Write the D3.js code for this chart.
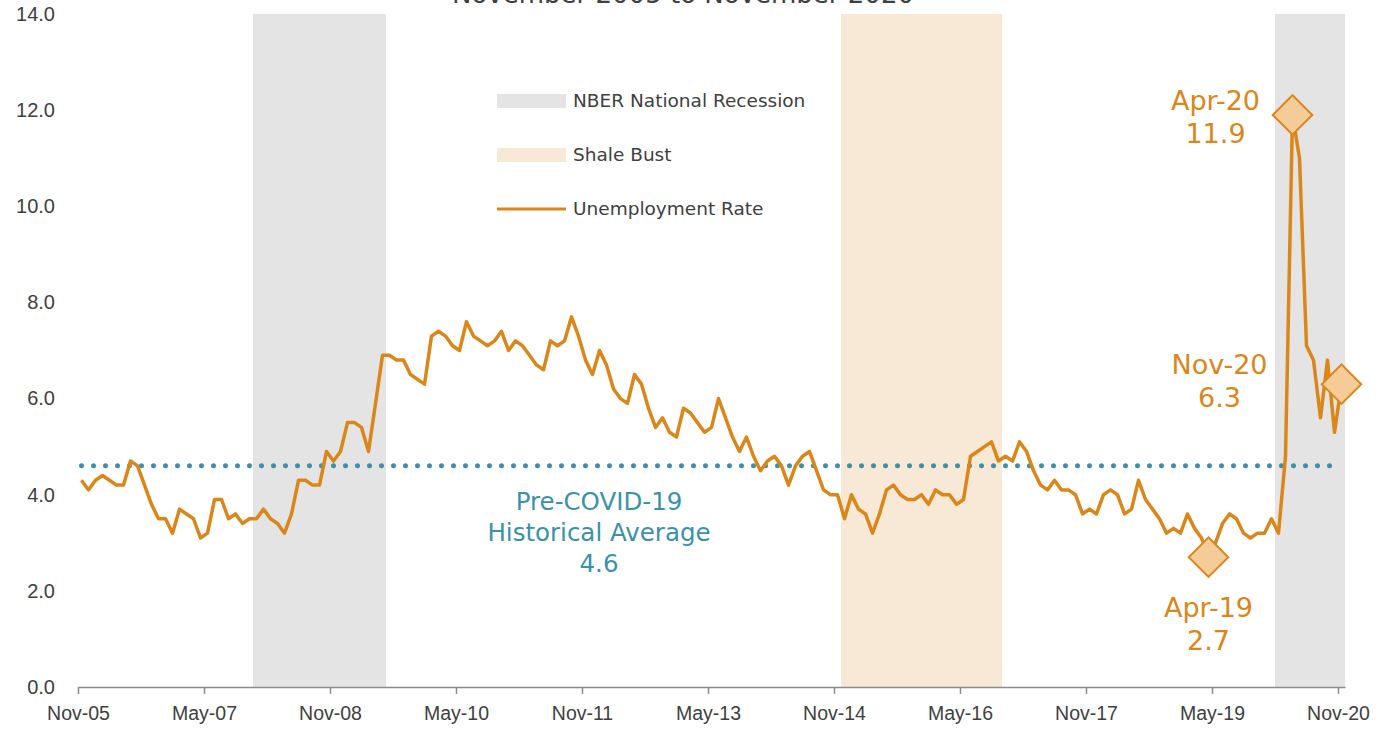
<!DOCTYPE html>
<html>
<head>
<meta charset="utf-8">
<script src="https://cdn.jsdelivr.net/npm/d3@7"></script>
<style>
  body { margin: 0; background: #fff; }
  svg { display: block; font-family: "DejaVu Sans", sans-serif; }
  .axis text { fill: #404040; }
  .axis--x path, .axis--x line { stroke: #8c8c8c; stroke-width: 1.5; }
</style>
</head>
<body>
<div id="chart"></div>
<script>
// monthly unemployment rate, Nov-05 .. Nov-20
var firstMonth = new Date(2005, 10, 1);
var rates = [
    4.3, 4.1, 4.3, 4.4, 4.3, 4.2, 4.2, 4.7, 4.6, 4.2,
    3.8, 3.5, 3.5, 3.2, 3.7, 3.6, 3.5, 3.1, 3.2, 3.9,
    3.9, 3.5, 3.6, 3.4, 3.5, 3.5, 3.7, 3.5, 3.4, 3.2,
    3.6, 4.3, 4.3, 4.2, 4.2, 4.9, 4.7, 4.9, 5.5, 5.5,
    5.4, 4.9, 5.9, 6.9, 6.9, 6.8, 6.8, 6.5, 6.4, 6.3,
    7.3, 7.4, 7.3, 7.1, 7.0, 7.6, 7.3, 7.2, 7.1, 7.2,
    7.4, 7.0, 7.2, 7.1, 6.9, 6.7, 6.6, 7.2, 7.1, 7.2,
    7.7, 7.3, 6.8, 6.5, 7.0, 6.7, 6.2, 6.0, 5.9, 6.5,
    6.3, 5.8, 5.4, 5.6, 5.3, 5.2, 5.8, 5.7, 5.5, 5.3,
    5.4, 6.0, 5.6, 5.2, 4.9, 5.2, 4.8, 4.5, 4.7, 4.8,
    4.6, 4.2, 4.6, 4.8, 4.9, 4.5, 4.1, 4.0, 4.0, 3.5,
    4.0, 3.7, 3.6, 3.2, 3.6, 4.1, 4.2, 4.0, 3.9, 3.9,
    4.0, 3.8, 4.1, 4.0, 4.0, 3.8, 3.9, 4.8, 4.9, 5.0,
    5.1, 4.7, 4.8, 4.7, 5.1, 4.9, 4.5, 4.2, 4.1, 4.3,
    4.1, 4.1, 4.0, 3.6, 3.7, 3.6, 4.0, 4.1, 4.0, 3.6,
    3.7, 4.3, 3.9, 3.7, 3.5, 3.2, 3.3, 3.2, 3.6, 3.3,
    3.1, 2.7, 3.0, 3.4, 3.6, 3.5, 3.2, 3.1, 3.2, 3.2,
    3.5, 3.2, 4.8, 11.9, 11.0, 7.1, 6.8, 5.6, 6.8, 5.3, 6.3
];
var historicalAvg = 4.6;

var xTickLabels = ['Nov-05', 'May-07', 'Nov-08', 'May-10', 'Nov-11', 'May-13',
                   'Nov-14', 'May-16', 'Nov-17', 'May-19', 'Nov-20'];
var yTicks = [0, 2, 4, 6, 8, 10, 12, 14];

// shaded periods [first month, last month]
var nberPeriods = [['Dec-07', 'Jun-09'], ['Feb-20', 'Nov-20']];
var shalePeriods = [['Dec-14', 'Oct-16']];

// highlighted points
var callouts = ['Apr-19', 'Apr-20', 'Nov-20'];

var title = 'November 2005 to November 2020';
var legendLabels = ['NBER National Recession', 'Shale Bust', 'Unemployment Rate'];
var avgLabel = ['Pre-COVID-19', 'Historical Average', '4.6'];

var width = 1379, height = 731;
var orange = '#DB8619', teal = '#3A91A9', grey = '#E4E4E4', tan = '#F8E9D6';

var fmtMonth = d3.timeFormat('%b-%y');
var data = rates.map(function(v, i) {
    var dt = d3.timeMonth.offset(firstMonth, i);
    return {i: i, label: fmtMonth(dt), value: v};
});
var indexOf = {};
data.forEach(function(d) { indexOf[d.label] = d.i; });

var xScale = d3.scaleLinear().domain([0, data.length]).range([78, 1345]);
var yScale = d3.scaleLinear().domain([0, 14]).range([687, 14]);

var svg = d3.select('#chart').append('svg')
    .attr('width', width)
    .attr('height', height);

// title (cut at the top, as in the source)
svg.append('text')
    .attr('x', 683)
    .attr('y', 3)
    .attr('text-anchor', 'middle')
    .style('font-size', '26px')
    .style('fill', '#404040')
    .text(title);

function drawBands(periods, color) {
    svg.append('g').selectAll('rect')
        .data(periods)
        .enter().append('rect')
        .attr('x', function(d) { return xScale(indexOf[d[0]]); })
        .attr('width', function(d) { return xScale(indexOf[d[1]] + 1) - xScale(indexOf[d[0]]); })
        .attr('y', yScale(14))
        .attr('height', yScale(0) - yScale(14))
        .style('fill', color);
}
drawBands(nberPeriods, grey);
drawBands(shalePeriods, tan);

// axes
svg.append('g')
    .attr('class', 'axis axis--x')
    .attr('transform', 'translate(0,' + yScale(0) + ')')
    .call(d3.axisBottom(xScale)
        .tickValues(xTickLabels.map(function(d) { return indexOf[d]; }))
        .tickFormat(function(d) { return data[d].label; })
        .tickSize(7)
        .tickSizeOuter(0)
        .tickPadding(12))
    .selectAll('text')
    .style('font-size', '19.5px');

var yAxis = svg.append('g')
    .attr('class', 'axis axis--y')
    .attr('transform', 'translate(78,0)')
    .call(d3.axisLeft(yScale)
        .tickValues(yTicks)
        .tickFormat(d3.format('.1f'))
        .tickSize(0)
        .tickPadding(23));
yAxis.select('.domain').remove();
yAxis.selectAll('text').style('font-size', '20px');

// historical average
svg.append('line')
    .attr('x1', xScale(0.5))
    .attr('x2', xScale(data.length - 0.5))
    .attr('y1', yScale(historicalAvg))
    .attr('y2', yScale(historicalAvg))
    .style('stroke', teal)
    .style('stroke-width', 5)
    .style('stroke-linecap', 'round')
    .style('stroke-dasharray', '0 12');

var avgText = svg.append('text')
    .attr('text-anchor', 'middle')
    .style('font-size', '24.5px')
    .style('fill', teal);
avgText.selectAll('tspan')
    .data(avgLabel)
    .enter().append('tspan')
    .attr('x', 599)
    .attr('y', function(d, i) { return 510 + i * 31; })
    .text(function(d) { return d; });

// unemployment line
var line = d3.line()
    .x(function(d) { return xScale(d.i + 0.5); })
    .y(function(d) { return yScale(d.value); });

svg.append('path')
    .datum(data)
    .attr('d', line)
    .style('fill', 'none')
    .style('stroke', orange)
    .style('stroke-width', 3.5)
    .style('stroke-linejoin', 'round');

// callout markers
var calloutPos = {
    'Apr-19': {dx: 0, dy: 60},
    'Apr-20': {dx: -77, dy: -5},
    'Nov-20': {dx: -122, dy: -10}
};
var pts = callouts.map(function(c) { return data[indexOf[c]]; });

svg.append('g').selectAll('path')
    .data(pts)
    .enter().append('path')
    .attr('d', d3.symbol().type(d3.symbolSquare).size(780))
    .attr('transform', function(d) {
        return 'translate(' + xScale(d.i + 0.5) + ',' + yScale(d.value) + ') rotate(45)';
    })
    .style('fill', '#F5CC98')
    .style('stroke', orange)
    .style('stroke-width', 2);

var callText = svg.append('g').selectAll('text')
    .data(pts)
    .enter().append('text')
    .attr('text-anchor', 'middle')
    .style('font-size', '27px')
    .style('fill', orange);
callText.append('tspan')
    .attr('x', function(d) { return xScale(d.i + 0.5) + calloutPos[d.label].dx; })
    .attr('y', function(d) { return yScale(d.value) + calloutPos[d.label].dy; })
    .text(function(d) { return d.label; });
callText.append('tspan')
    .attr('x', function(d) { return xScale(d.i + 0.5) + calloutPos[d.label].dx; })
    .attr('dy', 33)
    .text(function(d) { return d.value.toFixed(1); });

// legend
var leg = svg.append('g').attr('transform', 'translate(497,101)');
var legItems = leg.selectAll('g')
    .data(legendLabels)
    .enter().append('g')
    .attr('transform', function(d, i) { return 'translate(0,' + (i * 54) + ')'; });

legItems.filter(function(d, i) { return i < 2; })
    .append('rect')
    .attr('y', -7)
    .attr('width', 69)
    .attr('height', 14)
    .style('fill', function(d, i) { return i === 0 ? grey : tan; });

legItems.filter(function(d, i) { return i === 2; })
    .append('line')
    .attr('x2', 69)
    .style('stroke', orange)
    .style('stroke-width', 3);

legItems.append('text')
    .attr('x', 76)
    .attr('dy', '0.35em')
    .style('font-size', '18.5px')
    .style('fill', '#404040')
    .text(function(d) { return d; });
</script>
</body>
</html>
